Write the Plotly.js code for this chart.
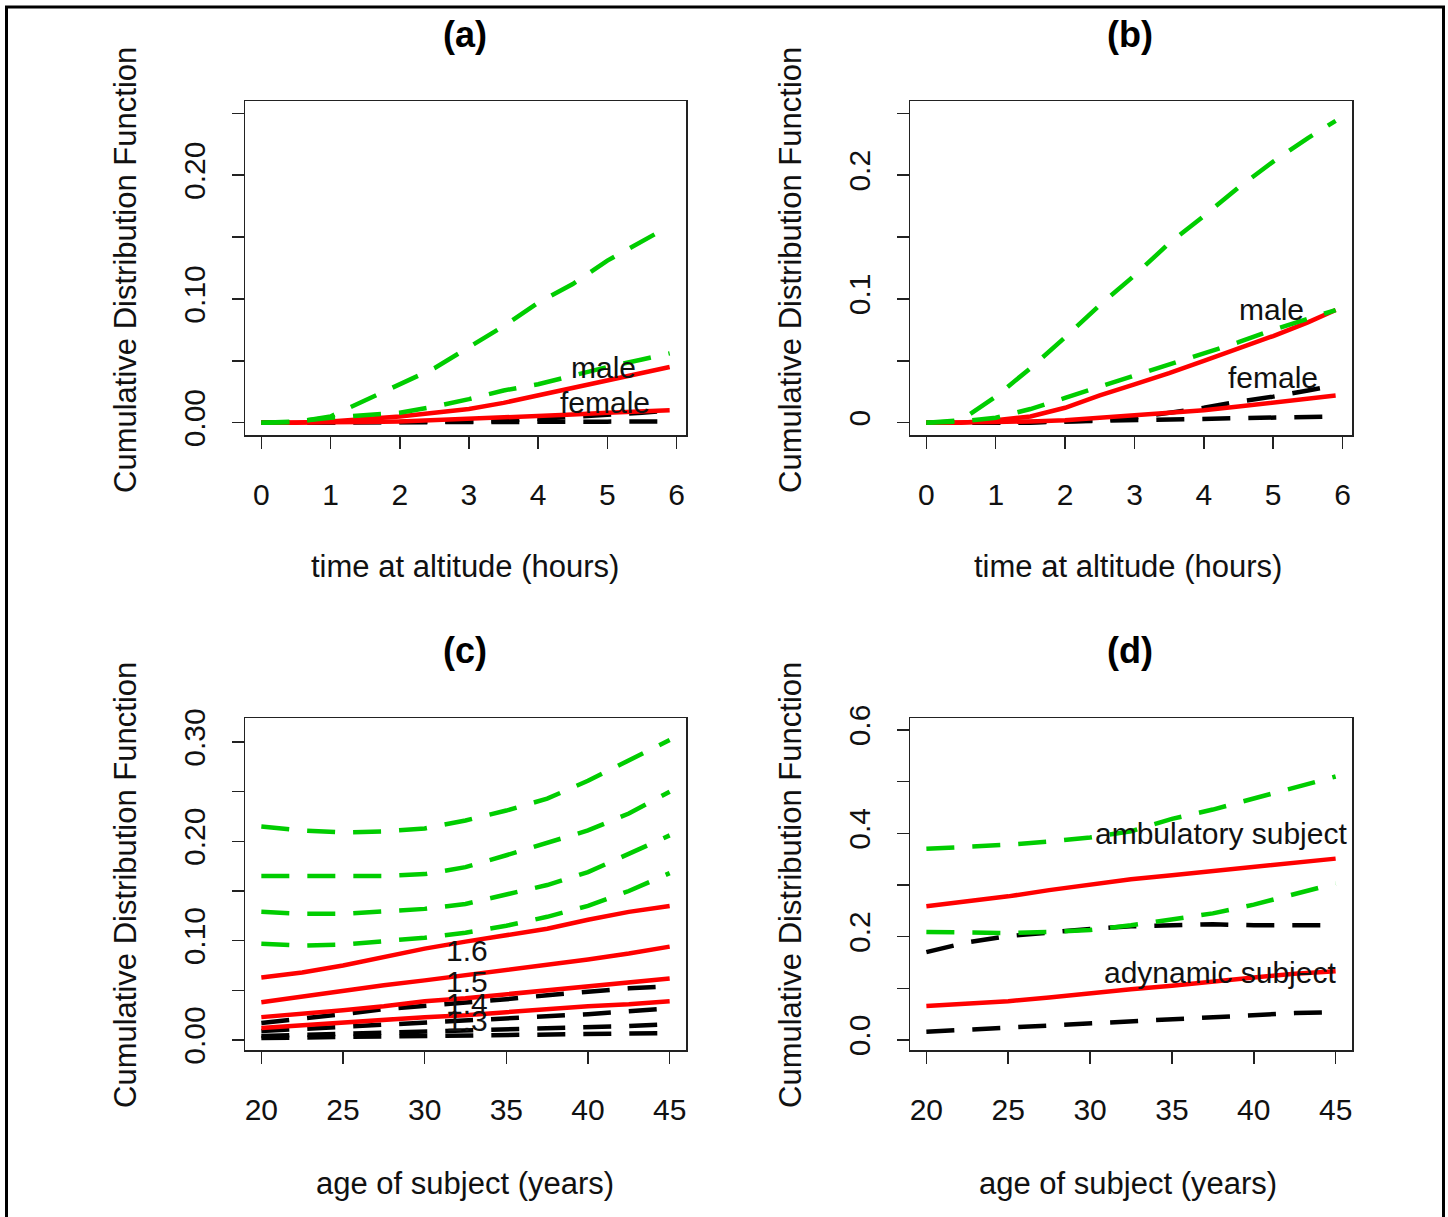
<!DOCTYPE html>
<html>
<head>
<meta charset="utf-8">
<script src="https://cdn.plot.ly/plotly-3.0.1.min.js"></script>
<style>html,body{margin:0;padding:0;background:#fff;}#chart{width:1448px;height:1217px;}</style>
</head>
<body>
<div id="chart"></div>
<script>
// ---------- data ----------
const timeHours = [0, 0.5, 1, 1.5, 2, 2.5, 3, 3.5, 4, 4.5, 5, 5.5, 5.9];
const ageYears = [20, 22.5, 25, 27.5, 30, 32.5, 35, 37.5, 40, 42.5, 45];

// panel (a)
const aMaleEst = [0, 0, 0.001, 0.003, 0.005, 0.008, 0.011, 0.016, 0.022, 0.028, 0.034, 0.040, 0.045];
const aFemaleEst = [0, 0, 0.0002, 0.0005, 0.001, 0.002, 0.003, 0.004, 0.005, 0.0065, 0.008, 0.009, 0.010];
const aMaleUpper = [0, 0.0005, 0.005, 0.018, 0.031, 0.044, 0.061, 0.078, 0.097, 0.112, 0.131, 0.146, 0.159];
const aFemaleUpper = [0, 0.001, 0.004, 0.006, 0.008, 0.013, 0.019, 0.026, 0.031, 0.038, 0.045, 0.051, 0.056];
const aMaleLower = [0, 0, 0, 0, 0, 0.0003, 0.0008, 0.0015, 0.003, 0.0045, 0.006, 0.008, 0.010];
const aFemaleLower = [0, 0, 0, 0, 0, 0, 0.0002, 0.0003, 0.0005, 0.0006, 0.0008, 0.001, 0.001];

// panel (b)
const bMaleEst = [0, 0, 0.002, 0.005, 0.012, 0.022, 0.031, 0.040, 0.050, 0.060, 0.070, 0.081, 0.091];
const bFemaleEst = [0, 0, 0.0005, 0.001, 0.002, 0.004, 0.006, 0.008, 0.010, 0.013, 0.016, 0.019, 0.022];
const bMaleUpper = [0, 0.002, 0.021, 0.044, 0.069, 0.095, 0.119, 0.145, 0.167, 0.190, 0.211, 0.230, 0.244];
const bFemaleUpper = [0, 0.001, 0.004, 0.011, 0.020, 0.029, 0.038, 0.047, 0.056, 0.065, 0.075, 0.084, 0.091];
const bMaleLower = [0, 0, 0, 0.0005, 0.001, 0.002, 0.004, 0.008, 0.012, 0.017, 0.021, 0.026, 0.030];
const bFemaleLower = [0, 0, 0, 0, 0.001, 0.0015, 0.002, 0.0025, 0.003, 0.0035, 0.004, 0.0045, 0.005];

// panel (c): four levels
const cLevels = ["1.6", "1.5", "1.4", "1.3"];
const cLevelLabelY = [0.0905, 0.059, 0.037, 0.020];
const cEst = [
  [0.063, 0.068, 0.075, 0.084, 0.092, 0.099, 0.106, 0.112, 0.121, 0.129, 0.135],
  [0.038, 0.044, 0.050, 0.055, 0.060, 0.065, 0.070, 0.075, 0.081, 0.087, 0.094],
  [0.023, 0.026, 0.030, 0.034, 0.039, 0.042, 0.046, 0.049, 0.053, 0.058, 0.062],
  [0.012, 0.015, 0.018, 0.020, 0.023, 0.025, 0.028, 0.032, 0.034, 0.036, 0.039]
];
const cUpper = [
  [0.215, 0.211, 0.209, 0.210, 0.213, 0.221, 0.231, 0.243, 0.261, 0.282, 0.302],
  [0.165, 0.165, 0.165, 0.165, 0.167, 0.174, 0.186, 0.198, 0.211, 0.228, 0.250],
  [0.129, 0.127, 0.127, 0.129, 0.132, 0.137, 0.146, 0.156, 0.169, 0.187, 0.206],
  [0.097, 0.095, 0.096, 0.099, 0.103, 0.108, 0.115, 0.124, 0.135, 0.150, 0.168]
];
const cLower = [
  [0.017, 0.021, 0.026, 0.031, 0.034, 0.038, 0.041, 0.045, 0.049, 0.052, 0.054],
  [0.009, 0.011, 0.013, 0.015, 0.017, 0.019, 0.021, 0.024, 0.026, 0.029, 0.032],
  [0.004, 0.005, 0.006, 0.007, 0.008, 0.009, 0.010, 0.011, 0.012, 0.014, 0.016],
  [0.002, 0.0025, 0.003, 0.0035, 0.004, 0.0045, 0.005, 0.0055, 0.006, 0.0065, 0.007]
];

// panel (d)
const dAmbEst = [0.259, 0.268, 0.278, 0.290, 0.301, 0.311, 0.319, 0.327, 0.337, 0.345, 0.351];
const dAmbUpper = [0.370, 0.373, 0.378, 0.384, 0.392, 0.404, 0.428, 0.446, 0.468, 0.490, 0.510];
const dAmbLower = [0.170, 0.189, 0.201, 0.209, 0.215, 0.220, 0.223, 0.224, 0.222, 0.222, 0.222];
const dAdyEst = [0.066, 0.070, 0.075, 0.082, 0.091, 0.098, 0.105, 0.114, 0.121, 0.128, 0.133];
const dAdyUpper = [0.209, 0.207, 0.207, 0.209, 0.213, 0.222, 0.233, 0.245, 0.262, 0.282, 0.303];
const dAdyLower = [0.016, 0.020, 0.023, 0.027, 0.031, 0.036, 0.041, 0.045, 0.049, 0.052, 0.054];

// tick labels
const timeTicks = [0, 1, 2, 3, 4, 5, 6];
const ageTicks = [20, 25, 30, 35, 40, 45];
const aYTickVals = [0, 0.05, 0.10, 0.15, 0.20, 0.25];
const aYTickText = ["0.00", "", "0.10", "", "0.20", ""];
const bYTickText = ["0", "", "0.1", "", "0.2", ""];
const cYTickVals = [0, 0.05, 0.10, 0.15, 0.20, 0.25, 0.30];
const cYTickText = ["0.00", "", "0.10", "", "0.20", "", "0.30"];
const dYTickVals = [0, 0.1, 0.2, 0.3, 0.4, 0.5, 0.6];
const dYTickText = ["0.0", "", "0.2", "", "0.4", "", "0.6"];

// ---------- styling ----------
const W = 1448, H = 1217;
const FONT = "Liberation Sans, Arial, sans-serif";
const RED = "#ff0000", GREEN = "#00cd00", BLACK = "#000000";
const DASH = "28px,18px";
const LW = 4.5;
const px = v => v / W;
const py = v => 1 - v / H;

function line(x, y, color, dashed, xa, ya) {
  return {x: x, y: y, type: "scatter", mode: "lines", xaxis: xa, yaxis: ya,
    line: {color: color, width: LW, dash: dashed ? DASH : "solid"}, hoverinfo: "skip", showlegend: false};
}

const traces = [];
// (a)
traces.push(line(timeHours, aMaleLower, BLACK, true, "x", "y"));
traces.push(line(timeHours, aFemaleLower, BLACK, true, "x", "y"));
traces.push(line(timeHours, aMaleEst, RED, false, "x", "y"));
traces.push(line(timeHours, aFemaleEst, RED, false, "x", "y"));
traces.push(line(timeHours, aMaleUpper, GREEN, true, "x", "y"));
traces.push(line(timeHours, aFemaleUpper, GREEN, true, "x", "y"));
// (b)
traces.push(line(timeHours, bMaleLower, BLACK, true, "x2", "y2"));
traces.push(line(timeHours, bFemaleLower, BLACK, true, "x2", "y2"));
traces.push(line(timeHours, bMaleEst, RED, false, "x2", "y2"));
traces.push(line(timeHours, bFemaleEst, RED, false, "x2", "y2"));
traces.push(line(timeHours, bMaleUpper, GREEN, true, "x2", "y2"));
traces.push(line(timeHours, bFemaleUpper, GREEN, true, "x2", "y2"));
// (c)
cLower.forEach(s => traces.push(line(ageYears, s, BLACK, true, "x3", "y3")));
cEst.forEach(s => traces.push(line(ageYears, s, RED, false, "x3", "y3")));
cUpper.forEach(s => traces.push(line(ageYears, s, GREEN, true, "x3", "y3")));
// (d)
traces.push(line(ageYears, dAmbLower, BLACK, true, "x4", "y4"));
traces.push(line(ageYears, dAdyLower, BLACK, true, "x4", "y4"));
traces.push(line(ageYears, dAmbEst, RED, false, "x4", "y4"));
traces.push(line(ageYears, dAdyEst, RED, false, "x4", "y4"));
traces.push(line(ageYears, dAmbUpper, GREEN, true, "x4", "y4"));
traces.push(line(ageYears, dAdyUpper, GREEN, true, "x4", "y4"));

const tickFont = {family: FONT, size: 30, color: "#111"};
function xax(domain, range, vals, anchor) {
  return {domain: domain, range: range, anchor: anchor, tickvals: vals, ticktext: vals.map(String),
    showline: true, mirror: true, linecolor: "#222", linewidth: 1.5, ticks: "outside", ticklen: 12,
    tickwidth: 1.5, tickcolor: "#222", showgrid: false, zeroline: false, tickfont: tickFont,
    ticklabelstandoff: 20, fixedrange: true};
}
function yax(domain, range, vals, text, anchor) {
  return {domain: domain, range: range, anchor: anchor, tickvals: vals, ticktext: text, tickangle: -90,
    showline: true, mirror: true, linecolor: "#222", linewidth: 1.5, ticks: "outside", ticklen: 12,
    tickwidth: 1.5, tickcolor: "#222", showgrid: false, zeroline: false, tickfont: tickFont,
    ticklabelstandoff: 15, fixedrange: true};
}

const xDomL = [px(245), px(686)], xDomR = [px(910), px(1352)];
const yDomT = [py(435), py(101)], yDomB = [py(1050), py(718)];
const timeRange = [-0.236, 6.136], ageRange = [19, 46];

const labFont = {family: FONT, size: 31, color: "#111"};
const txtFont = {family: FONT, size: 30, color: "#111"};
const mainFont = {family: FONT, size: 36, color: "#000", weight: "bold"};
function pa(x, y, text, font, angle) {
  return {xref: "paper", yref: "paper", x: px(x), y: py(y), text: text, showarrow: false,
    xanchor: "center", yanchor: "middle", font: font, textangle: angle || 0};
}
function da(xr, yr, x, y, text) {
  return {xref: xr, yref: yr, x: x, y: y, text: text, showarrow: false,
    xanchor: "center", yanchor: "middle", font: txtFont};
}

const annotations = [
  pa(465, 35, "<b>(a)</b>", mainFont), pa(1130, 35, "<b>(b)</b>", mainFont),
  pa(465, 650, "<b>(c)</b>", mainFont), pa(1130, 650, "<b>(d)</b>", mainFont),
  pa(465, 566, "time at altitude (hours)", labFont), pa(1128, 566, "time at altitude (hours)", labFont),
  pa(465, 1183, "age of subject (years)", labFont), pa(1128, 1183, "age of subject (years)", labFont),
  pa(125, 270, "Cumulative Distribution Function", labFont, -90),
  pa(790, 270, "Cumulative Distribution Function", labFont, -90),
  pa(125, 885, "Cumulative Distribution Function", labFont, -90),
  pa(790, 885, "Cumulative Distribution Function", labFont, -90),
  da("x", "y", 4.95, 0.0445, "male"), da("x", "y", 4.96, 0.016, "female"),
  da("x2", "y2", 4.97, 0.0915, "male"), da("x2", "y2", 4.99, 0.0364, "female"),
  da("x4", "y4", 38.0, 0.400, "ambulatory subject"), da("x4", "y4", 37.96, 0.130, "adynamic subject")
];
cLevels.forEach((t, i) => annotations.push(da("x3", "y3", 32.6, cLevelLabelY[i], t)));

const layout = {
  width: W, height: H, margin: {l: 0, r: 0, t: 0, b: 0, pad: 0},
  paper_bgcolor: "#fff", plot_bgcolor: "#fff", showlegend: false,
  xaxis: xax(xDomL, timeRange, timeTicks, "y"),
  yaxis: yax(yDomT, [-0.01, 0.26], aYTickVals, aYTickText, "x"),
  xaxis2: xax(xDomR, timeRange, timeTicks, "y2"),
  yaxis2: yax(yDomT, [-0.01, 0.26], aYTickVals, bYTickText, "x2"),
  xaxis3: xax(xDomL, ageRange, ageTicks, "y3"),
  yaxis3: yax(yDomB, [-0.0101, 0.3242], cYTickVals, cYTickText, "x3"),
  xaxis4: xax(xDomR, ageRange, ageTicks, "y4"),
  yaxis4: yax(yDomB, [-0.0194, 0.6232], dYTickVals, dYTickText, "x4"),
  annotations: annotations,
  shapes: [{type: "rect", xref: "paper", yref: "paper", x0: px(6.5), x1: px(1443.5), y0: -0.05, y1: py(7),
    line: {color: "#000", width: 3}, fillcolor: "rgba(0,0,0,0)", layer: "above"}]
};

Plotly.newPlot("chart", traces, layout, {staticPlot: true, displayModeBar: false});
</script>
</body>
</html>
